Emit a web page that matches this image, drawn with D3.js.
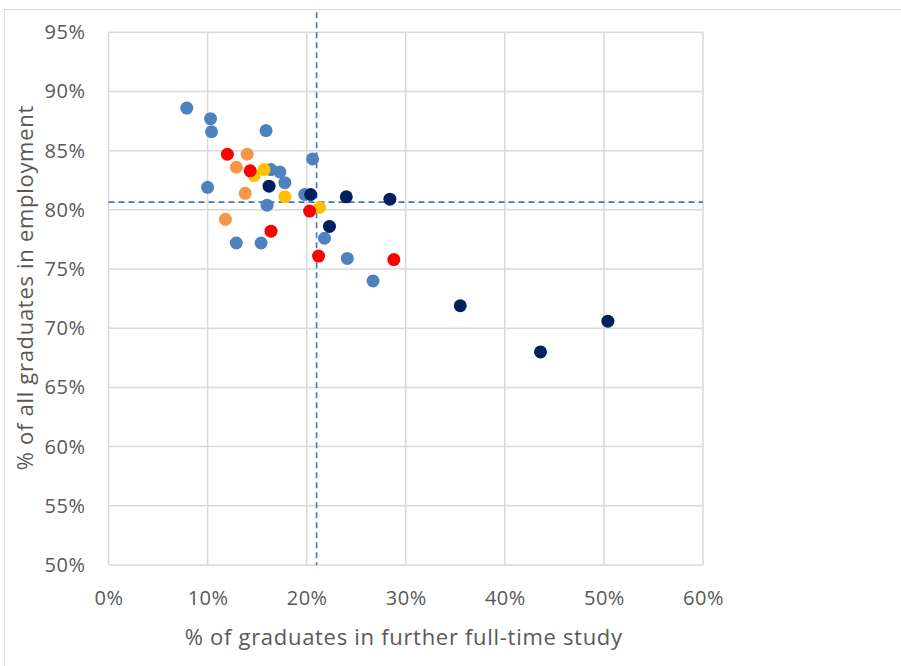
<!DOCTYPE html>
<html><head><meta charset="utf-8">
<script src="https://cdn.jsdelivr.net/npm/d3@7/dist/d3.min.js"></script>
<style>html,body{margin:0;padding:0;background:#fff;}svg{display:block;}</style>
</head><body>
<svg id="c" width="901" height="666"></svg>
<script>
// Data (x = % in further full-time study, y = % in employment)
const blueX = [7.9,10.3,10.4,15.9,20.6,10.0,16.4,17.3,17.8,16.0,19.8,12.9,15.4,21.8,24.1,26.7];
const blueY = [88.6,87.7,86.6,86.7,84.3,81.9,83.4,83.2,82.3,80.4,81.3,77.2,77.2,77.6,75.9,74.0];
const orangeX = [14.0,12.9,13.8,11.8];
const orangeY = [84.7,83.6,81.4,79.2];
const yellowX = [15.7,14.7,17.8,21.3];
const yellowY = [83.4,82.9,81.1,80.2];
const redX = [12.0,14.3,20.3,16.4,21.2,28.8];
const redY = [84.7,83.3,79.9,78.2,76.1,75.8];
const navyX = [16.2,20.4,24.0,28.4,22.3,35.5,43.6,50.4];
const navyY = [82.0,81.3,81.1,80.9,78.6,71.9,68.0,70.6];
const avgX = 21.0, avgY = 80.65;
const xTicks = [0,10,20,30,40,50,60];
const yTicks = [50,55,60,65,70,75,80,85,90,95];
const xTitle = "% of graduates in further full-time study";
const yTitle = "% of all graduates in employment";

const series = [
  {x: blueX, y: blueY, color: "#4F81BD"},
  {x: orangeX, y: orangeY, color: "#F79646"},
  {x: yellowX, y: yellowY, color: "#FFC000"},
  {x: redX, y: redY, color: "#FF0000"},
  {x: navyX, y: navyY, color: "#002060"}
];

const svg = d3.select("#c");
const L = 108.5, T = 32.3, R = 703, B = 565;
const x = d3.scaleLinear().domain([0,60]).range([L,R]);
const y = d3.scaleLinear().domain([50,95]).range([B,T]);
const font = "'Open Sans', sans-serif";

svg.append("rect").attr("x",4.5).attr("y",9.5).attr("width",900).attr("height",670)
  .attr("fill","#fff").attr("stroke","#d9d9d9").attr("stroke-width",1);

// gridlines
const g = svg.append("g");
g.selectAll("line.v").data(xTicks).join("line")
  .attr("x1",d=>x(d)).attr("x2",d=>x(d)).attr("y1",T).attr("y2",B)
  .attr("stroke","#d9d9d9").attr("stroke-width",1.5);
g.selectAll("line.h").data(yTicks).join("line")
  .attr("y1",d=>y(d)).attr("y2",d=>y(d)).attr("x1",L).attr("x2",R)
  .attr("stroke","#d9d9d9").attr("stroke-width",1.5);

// axes labels via d3 axes
const xAxis = svg.append("g").attr("transform",`translate(0,${B})`)
  .call(d3.axisBottom(x).tickValues(xTicks).tickFormat(d=>d+"%").tickSize(0).tickPadding(26));
const yAxis = svg.append("g").attr("transform",`translate(${L},0)`)
  .call(d3.axisLeft(y).tickValues(yTicks).tickFormat(d=>d+"%").tickSize(0).tickPadding(23));
[xAxis,yAxis].forEach(a=>{
  a.select(".domain").remove();
  a.selectAll("text").attr("fill","#595959").style("font-family",font)
    .style("font-size","20px").style("letter-spacing","0.5px");
});

// average dashed lines
svg.append("line").attr("x1",x(avgX)).attr("x2",x(avgX)).attr("y1",T-20).attr("y2",B)
  .attr("stroke","#4472C4").attr("stroke-width",1.6).attr("stroke-dasharray","6,4");
svg.append("line").attr("x1",L).attr("x2",R).attr("y1",y(avgY)).attr("y2",y(avgY))
  .attr("stroke","#4472C4").attr("stroke-width",1.6).attr("stroke-dasharray","6,4");

// points
series.forEach(s=>{
  svg.append("g").selectAll("circle").data(s.x.map((v,i)=>[v,s.y[i]])).join("circle")
    .attr("cx",d=>x(d[0])).attr("cy",d=>y(d[1])).attr("r",6.5).attr("fill",s.color);
});

// titles
svg.append("text").attr("x",(L+R)/2 - 2).attr("y",645).attr("text-anchor","middle")
  .attr("fill","#595959").style("font-family",font).style("font-size","22px")
  .style("letter-spacing","0.7px").text(xTitle);
svg.append("text").attr("transform",`translate(33,${(T+B)/2 - 11}) rotate(-90)`).attr("text-anchor","middle")
  .attr("fill","#595959").style("font-family",font).style("font-size","22px")
  .style("letter-spacing","0.7px").text(yTitle);
</script>
</body></html>
